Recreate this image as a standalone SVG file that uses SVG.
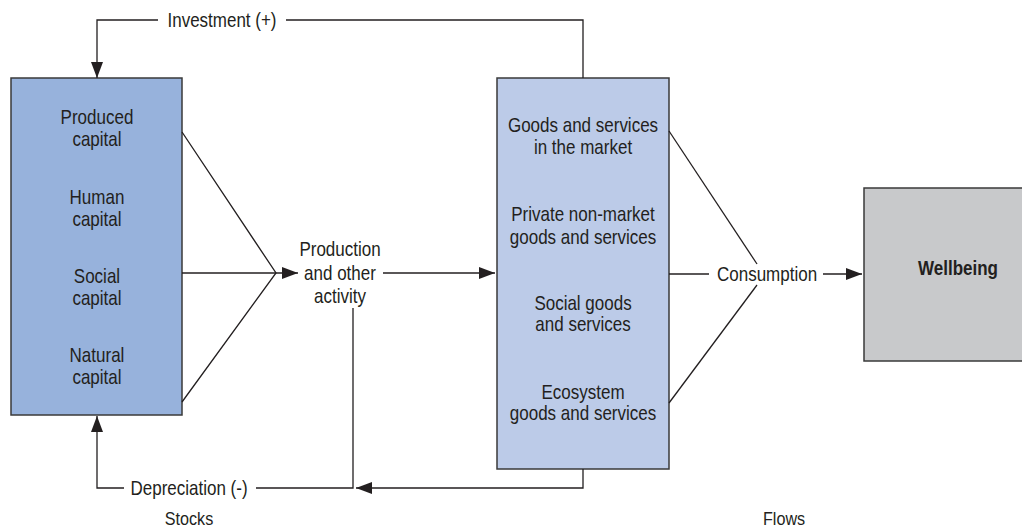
<svg xmlns="http://www.w3.org/2000/svg" width="1022" height="530" viewBox="0 0 1022 530">
<defs>
<marker id="ah" viewBox="0 0 16 12" refX="16" refY="6" markerWidth="16" markerHeight="12" markerUnits="userSpaceOnUse" orient="auto">
<path d="M0,0 L16,6 L0,12 Z" fill="#231f20"/>
</marker>
<style>
text{font-family:"Liberation Sans",Arial,sans-serif;font-size:20px;fill:#231f20;text-anchor:middle;dominant-baseline:central}
.b{font-weight:bold}
.box{stroke:#3a3a3a;stroke-width:1.5}
.c{fill:none;stroke:#231f20;stroke-width:1.3}
</style>
</defs>
<rect width="1022" height="530" fill="#ffffff"/>
<g id="stocks">
<rect class="box" x="11" y="78" width="171" height="337" fill="#97b2dc"/>
<g transform="matrix(0.85,0,0,1,0,0)">
<text x="114.1" y="117">Produced</text><text x="114.1" y="139">capital</text>
<text x="114.1" y="197">Human</text><text x="114.1" y="219">capital</text>
<text x="114.1" y="276">Social</text><text x="114.1" y="298">capital</text>
<text x="114.1" y="355">Natural</text><text x="114.1" y="377">capital</text>
</g>
</g>
<g id="production">
<g transform="matrix(0.85,0,0,1,0,0)">
<text x="400" y="249">Production</text><text x="400" y="273">and other</text><text x="400" y="296">activity</text>
</g>
</g>
<g id="flows">
<rect class="box" x="497" y="78" width="172" height="391" fill="#bccbe8"/>
<g transform="matrix(0.85,0,0,1,0,0)">
<text x="685.9" y="125">Goods and services</text><text x="685.9" y="147">in the market</text>
<text x="685.9" y="214">Private non-market</text><text x="685.9" y="237">goods and services</text>
<text x="685.9" y="303">Social goods</text><text x="685.9" y="324">and services</text>
<text x="685.9" y="392">Ecosystem</text><text x="685.9" y="413">goods and services</text>
</g>
</g>
<g id="wellbeing">
<rect class="box" x="864" y="188" width="190" height="173" fill="#c8c9cb"/>
<g transform="matrix(0.85,0,0,1,0,0)">
<text class="b" x="1127.1" y="268">Wellbeing</text>
</g>
</g>
<g id="connectors">
<polyline class="c" points="182,132 276,273 182,402"/>
<line class="c" x1="182" y1="273" x2="298" y2="273" marker-end="url(#ah)"/>
<line class="c" x1="383" y1="273" x2="495" y2="273" marker-end="url(#ah)"/>
<line class="c" x1="669" y1="131" x2="757" y2="264"/>
<line class="c" x1="669" y1="403" x2="757" y2="285"/>
<line class="c" x1="669" y1="274" x2="709" y2="274"/>
<line class="c" x1="823" y1="274" x2="862" y2="274" marker-end="url(#ah)"/>
<polyline class="c" points="583,78 583,20 286,20"/>
<polyline class="c" points="158,20 97,20 97,78" marker-end="url(#ah)"/>
<polyline class="c" points="583,469 583,488 356,488" marker-end="url(#ah)"/>
<polyline class="c" points="353,308 353,488 256,488"/>
<polyline class="c" points="124,488 97,488 97,416" marker-end="url(#ah)"/>
<g transform="matrix(0.85,0,0,1,0,0)">
<text x="902.4" y="274">Consumption</text>
<text x="261.2" y="20">Investment (+)</text>
<text x="222.4" y="488">Depreciation (-)</text>
</g>
</g>
<g transform="matrix(0.85,0,0,1,0,0)">
<text x="222.4" y="519" style="font-size:19px">Stocks</text>
<text x="922.4" y="519" style="font-size:19px">Flows</text>
</g>
</svg>
